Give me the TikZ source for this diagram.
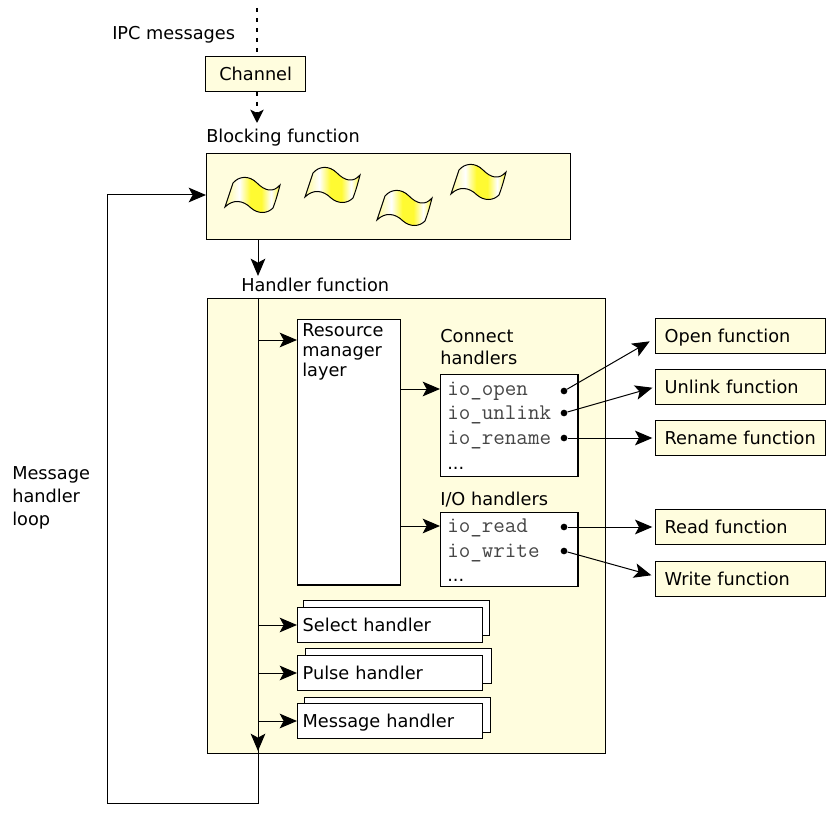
\documentclass[tikz,border=0pt]{standalone}
\usepackage{fontspec}
\setmainfont{DejaVu Sans}
\usetikzlibrary{arrows.meta}
\usetikzlibrary{calc}
\usetikzlibrary{positioning}

\definecolor{paleyellow}{RGB}{255,253,222}
\definecolor{flagyellow}{RGB}{255,250,50}
\definecolor{flagpale}{RGB}{253,250,150}
\definecolor{codegray}{RGB}{70,70,70}

\pgfdeclarehorizontalshading{flagshade}{100bp}{
  color(0bp)=(flagpale); color(25bp)=(flagpale); color(38bp)=(white);
  color(48bp)=(flagyellow); color(58bp)=(flagyellow); color(67bp)=(white);
  color(75bp)=(flagyellow); color(100bp)=(flagyellow)}

\tikzset{
  txt/.style={font=\fontsize{13.3pt}{15pt}\selectfont,inner sep=0pt},
  code/.style={font=\ttfamily\fontsize{16.8pt}{18pt}\selectfont,text=codegray,inner sep=0pt,anchor=base west},
  more/.style={txt,anchor=base west},
  box/.style={draw,line width=1pt,fill=white,inner sep=0pt,anchor=north west},
  yellowbox/.style={box,fill=paleyellow},
  fnbox/.style={yellowbox,txt,anchor=west,minimum height=26pt,text width=114pt,align=left,inner xsep=6.75pt,text height=10.2pt,text depth=0pt},
  hdlbox/.style={box,txt,anchor=west,minimum height=26pt,text width=131.25pt,align=left,inner xsep=3.75pt,text height=10.2pt,text depth=0pt},
  hdlback/.style={box,minimum width=139.5pt,minimum height=26pt},
  dotmark/.style={circle,fill=black,minimum size=5pt,inner sep=0pt},
  flow/.style={line width=.75pt,-{Stealth[length=13pt,width=11pt,inset=3pt]}},
  thinflow/.style={flow,shorten >=2pt},
  flag/.pic={
    \shadedraw [shading=flagshade,draw=black,line width=.75pt]
      (0,0) -- (8,-24)
      .. controls (14,-31) and (24,-32) .. (32,-24)
      .. controls (40,-16) and (48,-14) .. (55,-22)
      .. controls (53,-14) and (51,-7) .. (48,1)
      .. controls (42,7) and (33,7) .. (26,1)
      .. controls (18,-7) and (8,-8) .. (0,0) -- cycle;
  }
}

\begin{document}
\begin{tikzpicture}[x=0.75pt,y=-0.75pt]

  \useasboundingbox (0,0) rectangle (829,813);

  % top of the picture
  \coordinate (ipc_in) at (257,8);
  \coordinate (ipc_out) at (257,123);
  \node [txt,anchor=west] (ipc_lbl) at (112,35) {IPC messages};
  \node [fnbox,text width=65pt,align=center,inner xsep=5pt,anchor=north west,minimum height=26pt] (channel) at (205,56) {Channel};
  \node [txt,anchor=west] (block_lbl) at (206,138) {Blocking function};

  \path [draw,line width=1.2pt,dash pattern=on 3pt off 4.5pt]
    (ipc_in) -- (channel.north -| ipc_in);
  \path [draw,line width=1.2pt,dash pattern=on 3pt off 4.5pt,-{Stealth[length=10pt,width=10pt,inset=2.5pt]}]
    (channel.south -| ipc_in) -- (ipc_out);

  \node [yellowbox,minimum width=273pt,minimum height=64.5pt] (blocking) at (206,153) {};
  \pic at (225,207) {flag};
  \pic at (305,197) {flag};
  \pic at (377,220) {flag};
  \pic at (451,194) {flag};

  % handler function
  \node [txt,anchor=west] (hdl_lbl) at (241,285) {Handler function};
  \node [yellowbox,minimum width=298.5pt,minimum height=341pt] (handler) at (207,298) {};

  \coordinate (h_in) at (258,276);
  \coordinate (h_top) at (258,298);
  \coordinate (h_end) at (258,751);
  \coordinate (h_rm) at (258,340);
  \coordinate (h_sel) at (258,625);
  \coordinate (h_pul) at (258,673);
  \coordinate (h_msg) at (258,721);
  \coordinate (l_br) at (258,803);
  \coordinate (l_bl) at (107,803);
  \coordinate (l_tl) at (107,195);
  \coordinate (rm_conn) at (400,389);
  \coordinate (rm_io) at (400,526);

  \node [box,minimum width=77pt,minimum height=199pt] (rm) at (297,319) {};
  \node [txt,anchor=north west,align=left] (rm_lbl) at (302,323) {Resource\\manager\\layer};

  \node [txt,anchor=north west,align=left,font=\fontsize{13.3pt}{16.5pt}\selectfont] (conn_lbl) at (440,329) {Connect\\handlers};
  \node [box,minimum width=103pt,minimum height=76.5pt] (conn) at (440,374) {};
  \node [code] (t_open) at (447,395) {io\_open};
  \node [code] (t_unlink) at (447,419) {io\_unlink};
  \node [code] (t_rename) at (447,444) {io\_rename};
  \node [more] (t_more) at (447,469) {...};

  \node [txt,anchor=west] (io_lbl) at (440,500) {I/O handlers};
  \node [box,minimum width=103pt,minimum height=55.5pt] (ioh) at (440,512) {};
  \node [code] (t_read) at (447,532) {io\_read};
  \node [code] (t_write) at (447,557) {io\_write};
  \node [more] (t_more2) at (447,581) {...};

  \node [dotmark] (d_open) at (564,391) {};
  \node [dotmark] (d_unlink) at (564,413) {};
  \node [dotmark] (d_rename) at (564,438) {};
  \node [dotmark] (d_read) at (564,527) {};
  \node [dotmark] (d_write) at (564,551) {};

  % stacked handlers
  \node [hdlback] (sel_bk) at (303,600) {};
  \node [hdlbox] (sel) at (297,625) {Select handler};
  \node [hdlback] (pul_bk) at (305,648) {};
  \node [hdlbox] (pul) at (297,673) {Pulse handler};
  \node [hdlback] (msg_bk) at (304,697) {};
  \node [hdlbox] (msg) at (297,721) {Message handler};

  % functions on the right
  \node [fnbox] (f_open) at (655,336) {Open function};
  \node [fnbox] (f_unlink) at (655,387) {Unlink function};
  \node [fnbox] (f_rename) at (655,438) {Rename function};
  \node [fnbox] (f_read) at (655,527) {Read function};
  \node [fnbox] (f_write) at (655,579) {Write function};

  \node [txt,anchor=north west,align=left,font=\fontsize{13.3pt}{17.5pt}\selectfont] (loop_lbl) at (12,466) {Message\\handler\\loop};

  \path [draw,flow]
    (blocking.south -| h_in) -- (h_in);
  \draw [line width=.75pt] (h_top) -- (l_br) -- (l_bl) -- (l_tl);
  \path [draw,flow]
    (l_tl) -- (blocking.west |- l_tl);
  \path [draw,flow] (h_top) -- (h_end);
  \path [draw,flow] (h_rm) -- (rm.west |- h_rm);
  \path [draw,flow] (h_sel) -- (sel.west);
  \path [draw,flow] (h_pul) -- (pul.west);
  \path [draw,flow] (h_msg) -- (msg.west);
  \path [draw,flow] (rm_conn) -- (conn.west |- rm_conn);
  \path [draw,flow] (rm_io) -- (ioh.west |- rm_io);
  \path [draw,thinflow] (d_open) -- ($(f_open.west)+(-3,4)$);
  \path [draw,thinflow] (d_unlink) -- (f_unlink.west);
  \path [draw,thinflow] (d_rename) -- (f_rename.west);
  \path [draw,thinflow] (d_read) -- (f_read.west);
  \path [draw,thinflow] (d_write) -- ($(f_write.west)+(-1,-3)$);
\end{tikzpicture}
\end{document}
